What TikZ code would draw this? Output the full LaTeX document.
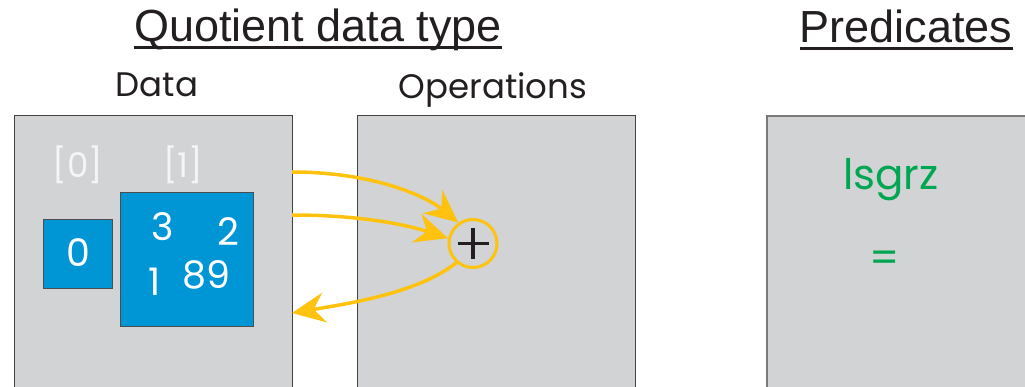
\documentclass[tikz,border=0pt]{standalone}
\usepackage{fontspec}
\setmainfont{Liberation Sans}
\newfontfamily\geo{Poppins}
\newfontfamily\helv{Liberation Sans}
\usetikzlibrary{arrows.meta}
\definecolor{boxgray}{RGB}{209,211,212}
\definecolor{qblue}{RGB}{0,150,214}
\definecolor{qyellow}{RGB}{255,194,14}
\definecolor{qgreen}{RGB}{0,166,81}
\definecolor{qtext}{RGB}{35,31,32}
\begin{document}
\begin{tikzpicture}[x=1pt,y=-1pt,
  panel/.style={draw=qtext!85, line width=1pt, fill=boxgray},
  cls/.style={draw=qtext!80, line width=1pt, fill=qblue},
  heading/.style={inner sep=0pt, text=qtext, font=\helv\fontsize{45}{50}\selectfont},
  sub/.style={inner sep=0pt, text=qtext, font=\geo\fontsize{34}{40}\selectfont},
  elem/.style={inner sep=0pt, text=white, font=\geo\fontsize{38}{44}\selectfont},
  cname/.style={inner sep=0pt, text=white!96!black, font=\geo\fontsize{34}{40}\selectfont},
  pred/.style={inner sep=0pt, text=qgreen, font=\geo\fontsize{42}{46}\selectfont},
  flow/.style={draw=qyellow, line width=3.5pt, -{Stealth[length=33pt,width=30pt,inset=11pt]}}
]
\useasboundingbox (0,0) rectangle (1025,387);
\clip (0,0) rectangle (1025,387);
\fill[white] (0,0) rectangle (1025,387);

% headings
\node[heading, anchor=base] (title) at (318,42) {Quotient data type};
\draw[qtext, line width=3pt] ([yshift=-6pt]title.base west) -- ([yshift=-6pt]title.base east);
\node[heading, anchor=base] (predtitle) at (906,43) {Predicates};
\draw[qtext, line width=3pt] ([yshift=-6pt]predtitle.base west) -- ([yshift=-6pt]predtitle.base east);

\node[sub, anchor=base] (datalbl) at (157,97) {Data};
\node[sub, anchor=base] (oplbl) at (493,99) {Operations};

% panels
\path[panel] (14,116) rectangle (292,400);
\path[panel] (357,116) rectangle (635,400);
\path[panel, draw=qtext!60, line width=1.5pt] (767,116) rectangle (1040,400);

% classes
\node[cname, anchor=base] (c0) at (78,178) {[0]};
\node[cname, anchor=base] (c1) at (183,178) {[1]};
\node[cls, minimum width=69pt, minimum height=69pt, inner sep=0pt] (cl0) at (77.5,254.5) {};
\node[cls, minimum width=133pt, minimum height=133pt, inner sep=0pt] (cl1) at (186.5,259.5) {};
\node[elem, anchor=base] (e0) at (78,267) {0};
\node[elem, anchor=base] (e3) at (163,241) {3};
\node[elem, anchor=base] (e2) at (228,246) {2};
\node[elem, anchor=base] (e1) at (155,295) {1};
\node[elem, anchor=base] (e89) at (206,288) {89};

% operation
\node[circle, draw=qyellow, line width=3pt, minimum size=48pt, inner sep=0pt] (plus) at (473,243.5) {};
\draw[qtext, line width=3.2pt] ([xshift=-15.5pt]plus.center) -- ([xshift=15.5pt]plus.center);
\draw[qtext, line width=3.2pt] ([yshift=-15.5pt]plus.center) -- ([yshift=15.5pt]plus.center);

% predicates
\node[pred, anchor=base] (lsgrz) at (891,190) {lsgrz};
\node[pred, anchor=center] (eq) at (885,262) {=};

% connectors
\coordinate (s1) at (292,172);
\coordinate (s2) at (292,215);
\coordinate (t3) at (292,313);
\draw[flow] (s1) .. controls +(80,0) and +(-33,-27) .. (plus.125);
\draw[flow] (s2) .. controls +(70,0) and +(-40,-13) .. (plus.168);
\draw[flow] (plus.229) .. controls +(-38,30) and +(60,-10) .. (t3);
\end{tikzpicture}
\end{document}
